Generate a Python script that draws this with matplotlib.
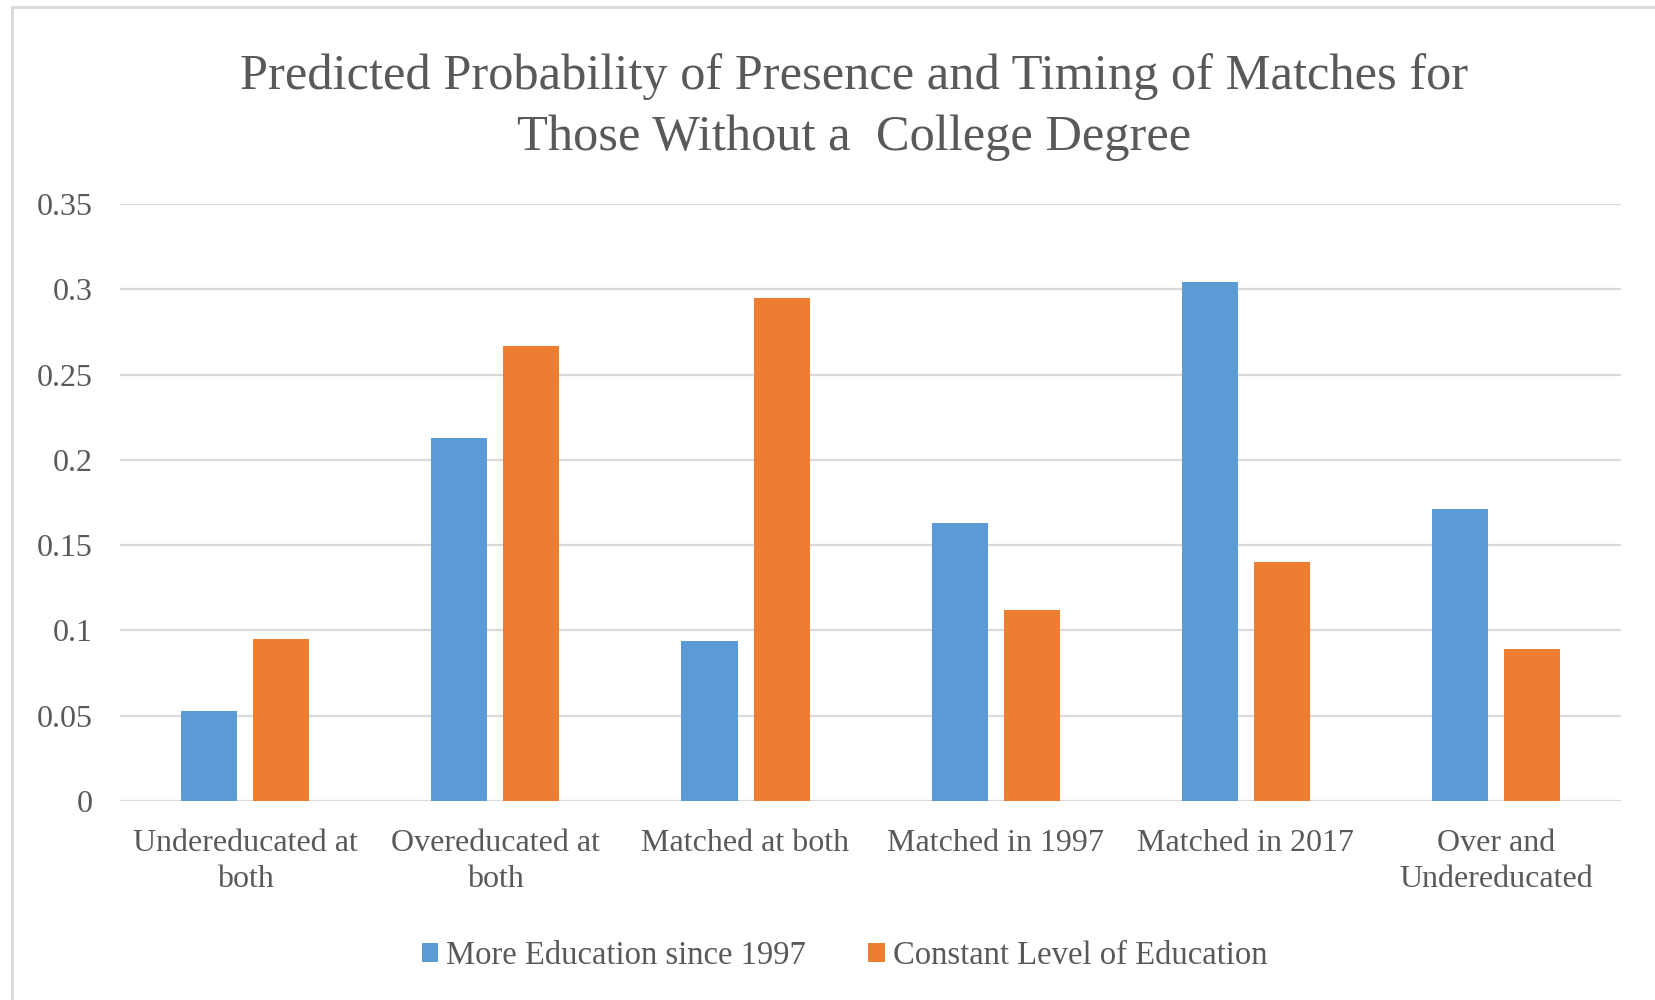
import matplotlib.pyplot as plt
import numpy as np
from matplotlib.patches import Rectangle

categories = ["Undereducated at\nboth", "Overeducated at\nboth", "Matched at both",
              "Matched in 1997", "Matched in 2017", "Over and\nUndereducated"]
more_education = [0.053, 0.213, 0.094, 0.163, 0.304, 0.171]
constant_education = [0.095, 0.267, 0.295, 0.112, 0.140, 0.089]
series_names = ["More Education since 1997", "Constant Level of Education"]
yticks = [0, 0.05, 0.1, 0.15, 0.2, 0.25, 0.3, 0.35]
ytick_labels = ["0", "0.05", "0.1", "0.15", "0.2", "0.25", "0.3", "0.35"]

BLUE = "#5B9BD5"
ORANGE = "#ED7D31"
TEXT = "#595959"
GRID = "#D9D9D9"

plt.rcParams["font.family"] = ["Liberation Serif", "DejaVu Serif"]

fig = plt.figure(figsize=(16.56, 10), dpi=100)
ax = fig.add_axes([0.0725, 0.199, 0.9065, 0.597])

x = np.arange(len(categories))
w = 0.224
b1 = ax.bar(x - 0.144, more_education, w, color=BLUE, label=series_names[0], zorder=3)
b2 = ax.bar(x + 0.144, constant_education, w, color=ORANGE, label=series_names[1], zorder=3)

ax.set_xlim(-0.5, len(categories) - 0.5)
ax.set_ylim(0, 0.35)
ax.set_yticks(yticks)
ax.set_yticklabels(ytick_labels)
ax.set_xticks(x)
ax.set_xticklabels(categories, linespacing=1.32)
ax.tick_params(axis="y", length=0, pad=20, labelsize=23, labelcolor=TEXT)
ax.tick_params(axis="x", length=0, pad=20, labelsize=23, labelcolor=TEXT)
ax.grid(axis="y", color=GRID, linewidth=1.6, zorder=0)
for s in ax.spines.values():
    s.set_visible(False)

fig.text(0.516, 0.893, "Predicted Probability of Presence and Timing of Matches for\nThose Without a  College Degree",
         ha="center", va="center", fontsize=36.4, color=TEXT, linespacing=1.4)

leg = fig.legend(handles=[b1, b2], loc="center", bbox_to_anchor=(0.51, 0.044), ncol=2,
                 frameon=False, fontsize=23.5, handlelength=0.5, handleheight=0.5,
                 handletextpad=0.25, columnspacing=1.9)
for t in leg.get_texts():
    t.set_color(TEXT)

# chart area border
fig.patches.append(Rectangle((0.0072, -0.01), 1.1, 1.003, transform=fig.transFigure,
                             fill=False, edgecolor="#D9D9D9", linewidth=2))

fig.savefig("out.png", dpi=100)
